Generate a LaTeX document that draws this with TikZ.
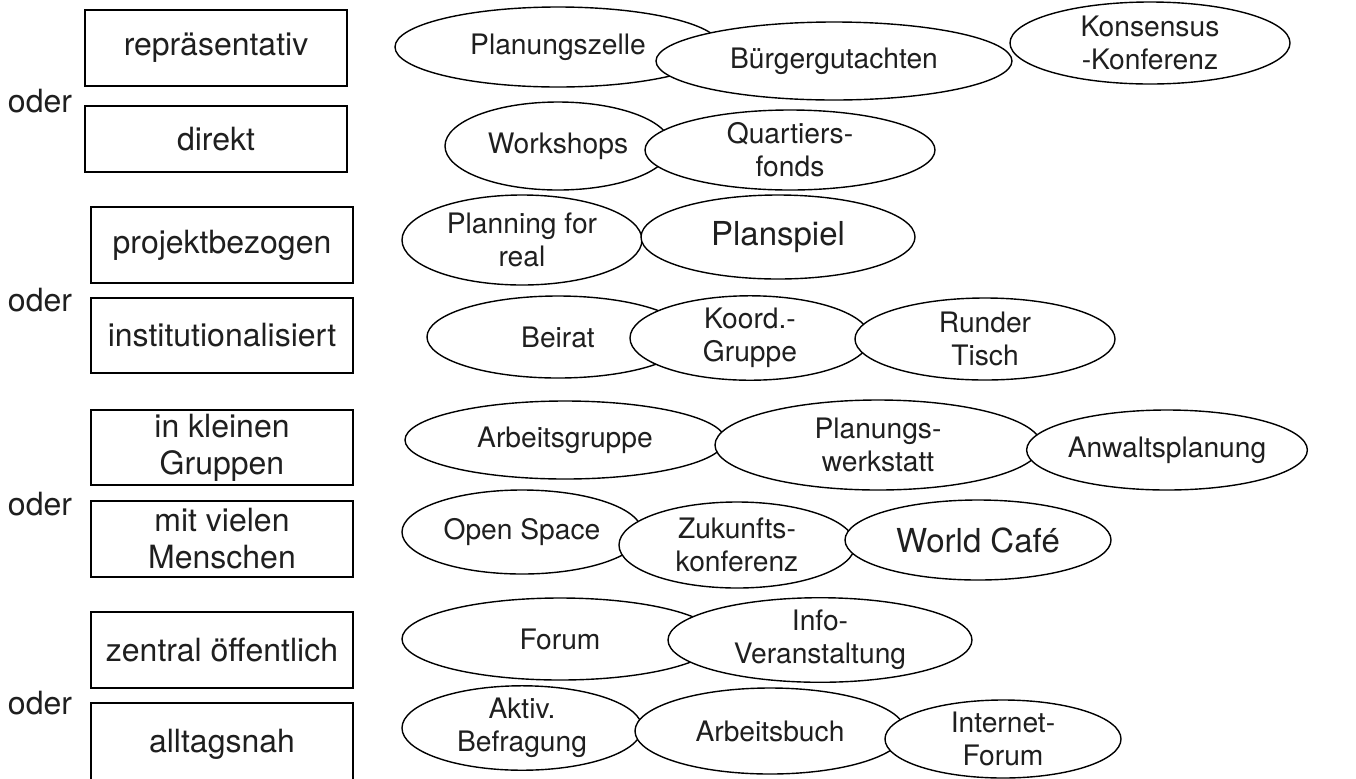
\documentclass[tikz,border=0pt]{standalone}
\usepackage{fontspec}
\setmainfont{TeX Gyre Heros}
\usetikzlibrary{shapes.geometric}
\begin{document}
\begin{tikzpicture}[x=0.5pt,y=-0.5pt,
  box/.style={draw=black,line width=0.9pt,fill=white,inner sep=0pt,align=center,
    font=\fontsize{16}{18.5}\selectfont,text=black!88},
  ell/.style={draw=black,line width=0.7pt,fill=white,ellipse,inner sep=0pt,align=center,
    font=\fontsize{14.1}{16.5}\selectfont,text=black!88},
  big/.style={font=\fontsize{16.5}{18}\selectfont},
  oder/.style={inner sep=0pt,font=\fontsize{16}{18}\selectfont,text=black!88}]
\useasboundingbox (0,0) rectangle (1356,778);
% left column
\node[box,minimum width=131pt,minimum height=38pt] (b1) at (216,48) {repräsentativ};
\node[box,minimum width=131pt,minimum height=33pt] (b2) at (216,139) {direkt};
\node[box,minimum width=131pt,minimum height=38pt] (b3) at (222,245) {projektbezogen};
\node[box,minimum width=131pt,minimum height=37.5pt] (b4) at (222,335.5) {institutionalisiert};
\node[box,minimum width=131pt,minimum height=37.5pt] (b5) at (222,447.5) {in kleinen\\Gruppen};
\node[box,minimum width=131pt,minimum height=38pt] (b6) at (222,539) {mit vielen\\Menschen};
\node[box,minimum width=131pt,minimum height=38pt] (b7) at (222,650) {zentral öffentlich};
\node[box,minimum width=131pt,minimum height=41pt] (b8) at (222,744) {alltagsnah};
\node[oder] (o1) at (40,101) {oder};
\node[oder] (o2) at (40,300) {oder};
\node[oder] (o3) at (40,504) {oder};
\node[oder] (o4) at (40,703) {oder};
% row 1
\node[ell,minimum width=163pt,minimum height=40pt] (e11) at (558,47) {Planungszelle};
\node[ell,minimum width=178pt,minimum height=39pt] (e12) at (834,61) {Bürgergutachten};
\node[ell,minimum width=140pt,minimum height=41pt] (e13) at (1150,43) {Konsensus\\-Konferenz};
% row 2
\node[ell,minimum width=113pt,minimum height=44pt] (e21) at (558,146) {Workshops};
\node[ell,minimum width=145pt,minimum height=40pt] (e22) at (790,150) {Quartiers-\\fonds};
% row 3
\node[ell,minimum width=120pt,minimum height=45pt] (e31) at (522,240) {Planning for\\real};
\node[ell,big,minimum width=137pt,minimum height=42pt] (e32) at (778,237) {Planspiel};
% row 4
\node[ell,minimum width=131pt,minimum height=41pt] (e41) at (558,337) {Beirat};
\node[ell,minimum width=120pt,minimum height=40pt] (e42) at (750,338) {Koord.-\\Gruppe};
\node[ell,minimum width=130pt,minimum height=41pt] (e43) at (985,339) {Runder\\Tisch};
% row 5
\node[ell,minimum width=160pt,minimum height=39pt] (e51) at (565,440) {Arbeitsgruppe};
\node[ell,minimum width=163pt,minimum height=45pt] (e52) at (878,445) {Planungs-\\werkstatt};
\node[ell,minimum width=138pt,minimum height=40pt] (e53) at (1167,450) {Anwaltsplanung};
% row 6
\node[ell,minimum width=120pt,minimum height=42pt] (e61) at (522,532) {Open Space};
\node[ell,minimum width=118pt,minimum height=43pt] (e62) at (737,545) {Zukunfts-\\konferenz};
\node[ell,big,minimum width=133pt,minimum height=40pt] (e63) at (978,540) {World Café};
% row 7
\node[ell,minimum width=158pt,minimum height=41pt] (e71) at (560,639) {Forum};
\node[ell,minimum width=152pt,minimum height=42pt] (e72) at (820,640) {Info-\\Veranstaltung};
% row 8
\node[ell,minimum width=120pt,minimum height=40pt] (e81) at (522,728) {Aktiv.\\Befragung};
\node[ell,minimum width=135pt,minimum height=43pt] (e82) at (770,731) {Arbeitsbuch};
\node[ell,minimum width=118pt,minimum height=39pt] (e83) at (1003,739) {Internet-\\Forum};
\end{tikzpicture}
\end{document}
